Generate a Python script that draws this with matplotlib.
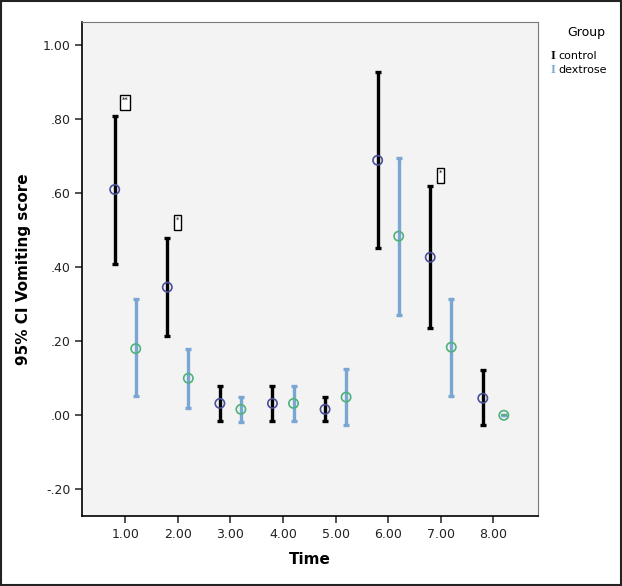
import numpy as np
import matplotlib.pyplot as plt
from matplotlib.ticker import FuncFormatter

# 95% CI da pontuação de vômito por tempo
time = [1, 2, 3, 4, 5, 6, 7, 8]

ctrl_mean = [0.61, 0.346, 0.032, 0.032, 0.016, 0.689, 0.427, 0.046]
ctrl_low = [0.41, 0.214, -0.016, -0.016, -0.016, 0.451, 0.235, -0.027]
ctrl_high = [0.81, 0.478, 0.078, 0.078, 0.050, 0.927, 0.619, 0.122]

dex_mean = [0.18, 0.10, 0.016, 0.032, 0.049, 0.484, 0.184, 0.0]
dex_low = [0.051, 0.019, -0.019, -0.016, -0.027, 0.272, 0.051, 0.0]
dex_high = [0.313, 0.178, 0.049, 0.078, 0.124, 0.695, 0.315, 0.0]

# rótulos (marcadores do SPSS) acima de algumas barras
marks = [(1, 0.845, "**\n "), (2, 0.52, "*\n "), (7, 0.648, "*\n")]

fig = plt.figure(figsize=(6.22, 5.86), dpi=100)
ax = fig.add_axes([0.132, 0.119, 0.733, 0.843])
ax.set_facecolor("#f3f3f3")

t = np.array(time, dtype=float)
off = 0.2

cm = np.array(ctrl_mean)
ax.errorbar(t - off, cm, yerr=[cm - np.array(ctrl_low), np.array(ctrl_high) - cm],
            fmt="none", ecolor="black", elinewidth=2.4, capsize=2.5, capthick=2.4, zorder=2)
ax.scatter(t - off, cm, s=45, facecolors="none", edgecolors="#4a4f9a", linewidths=1.2, zorder=3)

dm = np.array(dex_mean)
ax.errorbar(t + off, dm, yerr=[dm - np.array(dex_low), np.array(dex_high) - dm],
            fmt="none", ecolor="#79a6d2", elinewidth=2.4, capsize=2.5, capthick=2.4, zorder=2)
ax.scatter(t + off, dm, s=45, facecolors="none", edgecolors="#4fb27a", linewidths=1.2, zorder=3)
ax.plot(t[-1:] + off, dm[-1:], marker="_", color="#4fb27a", ms=5, mew=1.2, zorder=4)

for x, y, s in marks:
    ax.text(x, y, s, ha="center", va="center", fontsize=5, linespacing=0.9,
            bbox=dict(boxstyle="square,pad=0.25", fc="white", ec="black", lw=1.0))

ax.set_xlim(0.18, 8.85)
ax.set_ylim(-0.273, 1.062)
ax.set_xticks(time)
ax.set_yticks([-0.2, 0.0, 0.2, 0.4, 0.6, 0.8, 1.0])


def fmt(v, pos):
    s = f"{v:.2f}"
    if s.startswith("0"):
        s = s[1:]
    elif s.startswith("-0"):
        s = "-" + s[2:]
    return s


ax.yaxis.set_major_formatter(FuncFormatter(fmt))
ax.xaxis.set_major_formatter(FuncFormatter(lambda v, p: f"{v:.2f}"))
ax.tick_params(labelsize=9, length=5, width=1.2, color="#333333", labelcolor="#222222")
for side in ["top", "right"]:
    ax.spines[side].set_color("#777777")
for side in ["left", "bottom"]:
    ax.spines[side].set_linewidth(1.2)

ax.set_xlabel("Time", fontsize=11, fontweight="bold", labelpad=8)
ax.set_ylabel("95% CI Vomiting score", fontsize=11, fontweight="bold", labelpad=8)

# legenda fora do eixo
fig.text(0.912, 0.945, "Group", fontsize=9, ha="left", va="center")
fig.text(0.885, 0.905, "I", fontsize=9, fontweight="bold", color="black", family="Liberation Serif", va="center")
fig.text(0.898, 0.905, "control", fontsize=8, va="center")
fig.text(0.885, 0.880, "I", fontsize=9, fontweight="bold", color="#79a6d2", family="Liberation Serif", va="center")
fig.text(0.898, 0.880, "dextrose", fontsize=8, va="center")

# moldura externa
fig.patches.append(plt.Rectangle((0.002, 0.002), 0.996, 0.996, transform=fig.transFigure,
                                 fill=False, ec="#222222", lw=1.5))

plt.savefig("out.png", dpi=100)
